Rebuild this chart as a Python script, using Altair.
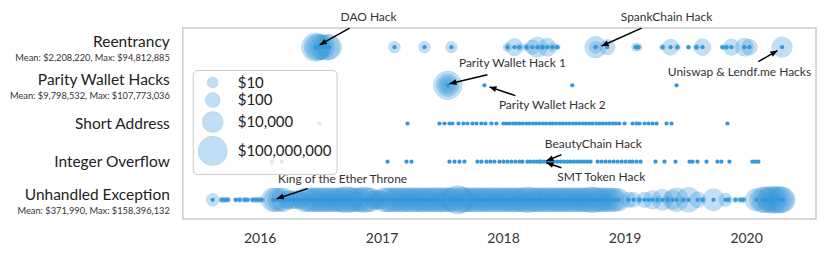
import math
import altair as alt
import pandas as pd

FONT = "Lato"
BLUE = "#3498db"

# ---------------- categories ----------------
categories = ["Reentrancy", "Parity Wallet Hacks", "Short Address", "Integer Overflow", "Unhandled Exception"]
cat_rows = [4, 3, 2, 1, 0]
subtitles = ["Mean: $2,208,220, Max: $94,812,885", "Mean: $9,798,532, Max: $107,773,036", "", "",
             "Mean: $371,990, Max: $158,396,132"]

# ---------------- data ----------------
re_dates = ["2016-06-17", "2016-06-21", "2016-06-28", "2016-07-08", "2016-07-20", "2016-07-28",
            "2017-02-09", "2017-05-10", "2017-07-30",
            "2018-01-14", "2018-02-04", "2018-02-19", "2018-03-12", "2018-03-30", "2018-04-14",
            "2018-04-29", "2018-05-14", "2018-05-29", "2018-06-13",
            "2018-10-06", "2018-10-06", "2018-11-10", "2019-02-03", "2019-02-12",
            "2019-04-25", "2019-05-19", "2019-06-09", "2019-07-12", "2019-08-05", "2019-08-23",
            "2019-10-22", "2019-11-03", "2019-11-18", "2019-12-27", "2020-01-11", "2020-04-18"]
re_amounts = [94812885, 3000000, 2000000, 800000, 5000000, 1000000,
              20, 20, 20,
              5, 800, 3, 3, 100, 10000,
              2, 1600, 5, 2,
              38000, 30, 180, 4, 3,
              2, 360, 2, 1.5, 2, 500,
              1.5, 2, 400, 1500, 300, 12000]

pw_dates = ["2017-07-19", "2017-07-19", "2017-07-19", "2017-07-19", "2017-11-06", "2018-07-28", "2019-06-06"]
pw_amounts = [107773036, 80000, 1000, 30, 1, 1, 1]

sa_dates = ["2016-06-29", "2017-03-20", "2017-06-24", "2017-07-09", "2017-07-24", "2017-08-02",
            "2017-08-20", "2017-09-04", "2017-09-16", "2017-10-01", "2017-10-13", "2017-10-28",
            "2017-11-09", "2017-11-27", "2017-12-12",
            "2018-01-02", "2018-01-11", "2018-01-20", "2018-01-31", "2018-02-09", "2018-02-19",
            "2018-03-01", "2018-03-12", "2018-03-21", "2018-04-01", "2018-04-10", "2018-04-20",
            "2018-05-01", "2018-05-10", "2018-05-21", "2018-05-30", "2018-06-09", "2018-06-20",
            "2018-06-29", "2018-07-09", "2018-07-19", "2018-07-30", "2018-08-08", "2018-08-18",
            "2018-08-29", "2018-09-07", "2018-09-17", "2018-09-27", "2018-10-08", "2018-10-17",
            "2018-10-27", "2018-11-06", "2018-11-16", "2018-11-27", "2018-12-06", "2018-12-16",
            "2019-01-01", "2019-01-25", "2019-02-06", "2019-02-15", "2019-03-02", "2019-03-14",
            "2019-03-26", "2019-04-07", "2019-05-07", "2019-05-22", "2019-11-06"]
sa_amounts = [1] * len(sa_dates)

io_dates = ["2016-02-06", "2016-03-07", "2017-01-19", "2017-03-17", "2017-04-01", "2017-07-24",
            "2017-08-08", "2017-08-23", "2017-09-07", "2017-10-16", "2017-10-28", "2017-11-12",
            "2017-11-24", "2017-12-06", "2017-12-21", "2018-01-02", "2018-01-14", "2018-01-26",
            "2018-02-07", "2018-02-19", "2018-02-28",
            "2018-03-15", "2018-03-25", "2018-04-04", "2018-04-14", "2018-04-22", "2018-04-24",
            "2018-05-04", "2018-05-14", "2018-05-24", "2018-06-03", "2018-06-13", "2018-06-23",
            "2018-07-03", "2018-07-13", "2018-07-23", "2018-08-02", "2018-08-12", "2018-08-22",
            "2018-09-01", "2018-09-11", "2018-09-21",
            "2018-10-12", "2018-10-24", "2018-11-05", "2018-11-17", "2018-11-29", "2018-12-11",
            "2018-12-23", "2019-01-04", "2019-01-16", "2019-01-25", "2019-02-06", "2019-02-18",
            "2019-04-04", "2019-05-01", "2019-06-03", "2019-07-15", "2019-07-24", "2019-08-08",
            "2019-09-04", "2019-10-07", "2019-10-19", "2019-11-12",
            "2020-01-20", "2020-01-29", "2020-02-07"]
io_amounts = [1] * len(io_dates)

ue_dates = ["2015-08-13", "2015-09-09", "2015-09-18", "2015-09-27", "2015-10-21", "2015-11-02",
            "2015-11-17", "2015-11-26", "2015-12-11", "2015-12-20", "2015-12-29", "2016-01-07",
            "2016-02-10", "2016-02-19", "2016-03-01", "2016-03-12", "2016-03-22", "2016-04-02",
            "2016-04-13", "2016-04-24", "2016-05-04", "2016-05-15", "2016-05-25", "2016-06-04",
            "2016-06-15", "2016-06-25", "2016-07-06", "2016-07-16", "2016-07-27", "2016-08-06",
            "2016-08-17", "2016-08-27", "2016-09-07", "2016-09-17", "2016-09-28", "2016-10-08",
            "2016-10-19", "2016-10-29", "2016-11-09", "2016-11-19", "2016-11-30", "2016-12-10",
            "2016-12-20", "2016-12-30",
            "2017-01-09", "2017-01-20", "2017-01-30", "2017-02-10", "2017-02-20", "2017-03-03",
            "2017-03-13", "2017-03-24", "2017-04-03", "2017-04-14", "2017-04-24", "2017-05-05",
            "2017-05-15", "2017-05-26", "2017-06-05", "2017-06-16", "2017-06-26", "2017-07-07",
            "2017-07-17", "2017-07-28", "2017-08-07", "2017-08-18", "2017-08-28", "2017-09-08",
            "2017-09-18", "2017-09-29", "2017-10-09", "2017-10-20", "2017-10-30", "2017-11-10",
            "2017-11-20", "2017-12-01", "2017-12-11", "2017-12-22",
            "2018-01-01", "2018-01-12", "2018-01-22", "2018-02-02", "2018-02-12", "2018-02-23",
            "2018-03-05", "2018-03-16", "2018-03-26", "2018-04-06", "2018-04-16", "2018-04-27",
            "2018-05-07", "2018-05-18", "2018-05-28", "2018-06-08", "2018-06-18", "2018-06-29",
            "2018-07-09", "2018-07-20", "2018-07-30", "2018-08-10", "2018-08-20", "2018-08-31",
            "2018-09-10", "2018-09-21", "2018-10-01", "2018-10-12", "2018-10-22", "2018-11-02",
            "2018-11-12", "2018-11-23", "2018-12-03", "2018-12-14",
            "2019-01-13", "2019-01-28", "2019-02-15", "2019-03-02", "2019-03-14", "2019-03-26",
            "2019-04-10", "2019-04-25", "2019-05-10", "2019-05-25", "2019-06-06", "2019-06-27",
            "2019-07-12", "2019-08-08", "2019-08-23", "2019-09-25", "2019-10-31", "2019-11-09",
            "2019-11-30", "2019-12-15", "2019-12-24",
            "2020-02-01", "2020-02-19", "2020-02-28", "2020-03-09", "2020-03-18", "2020-03-27",
            "2020-04-05", "2020-04-14", "2020-04-20"]
ue_amounts = [40, 2, 2, 2, 1.5, 2,
              2, 1.5, 2, 2, 2, 2,
              3e5, 3e5, 2e5, 3e5, 1e3, 2e3,
              1e3, 2e3, 1e3, 4e5, 3e5, 5e5,
              4e5, 6e5, 4e5, 5e5, 3e5, 5e5,
              4e5, 6e5, 8e5, 5e6, 1e6, 5e5,
              4e5, 5e5, 3e6, 5e5, 3e5, 2e3,
              3e3, 2e3,
              4e5, 5e5, 6e5, 4e5, 5e5, 7e5,
              4e5, 5e5, 6e5, 4e5, 5e5, 8e5,
              5e5, 4e5, 6e5, 5e5, 7e5, 5e5,
              6e5, 4e5, 8e5, 158396132, 2e6, 6e5,
              5e5, 4e5, 7e5, 5e5, 6e5, 4e5,
              5e5, 6e5, 4e5, 5e5,
              6e5, 4e5, 5e5, 7e5, 4e5, 5e5,
              6e5, 3e6, 5e5, 4e5, 6e5, 5e5,
              4e5, 7e5, 5e5, 4e5, 6e5, 5e5,
              4e5, 6e5, 5e5, 4e5, 5e5, 6e5,
              5e5, 2e6, 2e6, 6e5, 4e5, 5e5,
              3e5, 4e5, 2e5, 1e5,
              200, 150, 2, 200, 1.5, 2000,
              3, 20000, 3, 5000, 300000, 2,
              1000000, 300, 2, 50000, 50, 2,
              2, 2, 2,
              100000, 2e6, 5e6, 1e6, 2e7, 3e6,
              1e7, 4e6, 2e6]

series = [(re_dates, re_amounts, 4), (pw_dates, pw_amounts, 3), (sa_dates, sa_amounts, 2),
          (io_dates, io_amounts, 1), (ue_dates, ue_amounts, 0)]
df = pd.concat([pd.DataFrame({"date": pd.to_datetime(d), "amount": a, "row": r}) for d, a, r in series],
               ignore_index=True)

# ---------------- annotations ----------------
ann_text = ["DAO Hack", "SpankChain Hack", "Parity Wallet Hack 1", "Parity Wallet Hack 2",
            "Uniswap & Lendf.me Hacks", "BeautyChain Hack", "SMT Token Hack", "King of the Ether Throne"]
ann_text_date = ["2016-11-23", "2019-05-07", "2018-01-29", "2018-05-29", "2019-12-12", "2018-09-29",
                 "2018-10-23", "2016-09-06"]
ann_text_y = [4.80, 4.80, 3.59, 2.49, 3.36, 1.47, 0.61, 0.555]
arrow_from_date = ["2016-09-27", "2019-02-21", "2017-11-15", "2018-02-07", "2020-02-07", "2018-06-25",
                   "2018-06-25", "2016-05-24"]
arrow_from_y = [4.50, 4.50, 3.28, 2.73, 3.62, 1.18, 0.84, 0.293]
arrow_to_date = ["2016-06-29", "2018-10-24", "2017-07-24", "2017-11-21", "2020-04-04", "2018-05-11",
                 "2018-05-11", "2016-02-21"]
arrow_to_y = [4.06, 4.03, 3.04, 2.96, 3.91, 1.02, 0.97, 0.03]

X_DOMAIN = ("2015-05-15", "2020-07-29")
W, H = 634, 191
px_day = W / (pd.Timestamp(X_DOMAIN[1]) - pd.Timestamp(X_DOMAIN[0])).days
px_unit = H / 5.0

ann_df = pd.DataFrame({"text": ann_text, "date": pd.to_datetime(ann_text_date), "y": ann_text_y})
arr = pd.DataFrame({"date": pd.to_datetime(arrow_from_date), "y": arrow_from_y,
                    "date2": pd.to_datetime(arrow_to_date), "y2": arrow_to_y})
angles = []
for _, r in arr.iterrows():
    dx = (r["date2"] - r["date"]).days * px_day
    dy = -(r["y2"] - r["y"]) * px_unit
    angles.append(math.degrees(math.atan2(dx, -dy)) % 360)
arr["angle"] = angles

lab_df = pd.DataFrame({"label": categories, "sub": subtitles, "row": cat_rows})
lab_df["has_sub"] = lab_df["sub"] != ""

# ---------------- chart ----------------
x_scale = alt.Scale(domain=[alt.DateTime(year=2015, month=5, date=15),
                            alt.DateTime(year=2020, month=7, date=29)])
y_scale = alt.Scale(domain=[-0.5, 4.5])
x_axis = alt.Axis(format="%Y", values=[alt.DateTime(year=y, month=1, date=1) for y in range(2016, 2021)],
                  ticks=False, domain=False, grid=False, labelFontSize=14, labelFont=FONT,
                  labelColor="#333", labelPadding=13, title=None)

bubbles = alt.Chart(df).mark_circle(color=BLUE, opacity=0.3, stroke="#2c86c9",
                                    strokeWidth=1).encode(
    x=alt.X("date:T", scale=x_scale, axis=x_axis),
    y=alt.Y("row:Q", scale=y_scale, axis=None),
    size=alt.Size("amount:Q",
                  scale=alt.Scale(type="log", domain=[1, 1e8], range=[0, 800], clamp=True),
                  legend=alt.Legend(title=None, orient="none", legendX=10, legendY=42,
                                    values=[10, 100, 10000, 100000000], format="$,d",
                                    labelFont=FONT, labelFontSize=15, labelColor="#222",
                                    fillColor="rgba(255,255,255,0.8)", strokeColor="#cccccc",
                                    padding=5, cornerRadius=4, labelOffset=10,
                                    rowPadding=-2, zindex=1)),
)

dots = alt.Chart(df).mark_circle(size=18, color=BLUE, opacity=1).encode(
    x=alt.X("date:T"), y=alt.Y("row:Q"))

rules = alt.Chart(arr).mark_rule(color="black", strokeWidth=1.5).encode(
    x="date:T", y="y:Q", x2="date2:T", y2="y2:Q")

heads = alt.Chart(arr).mark_point(shape="M0,0L-0.75,1.75L0.75,1.75Z", filled=True, color="black",
                                  size=64, opacity=1).encode(
    x="date2:T", y="y2:Q", angle=alt.Angle("angle:Q", scale=None))

texts = alt.Chart(ann_df).mark_text(font=FONT, fontSize=12, color="#333", baseline="middle",
                                    align="center").encode(x="date:T", y="y:Q", text="text:N")

lab_main_sub = alt.Chart(lab_df).transform_filter("datum.has_sub").mark_text(
    font=FONT, fontSize=15.5, color="#222", align="right", baseline="middle", dy=-5).encode(
    x=alt.value(-13), y="row:Q", text="label:N")
lab_main = alt.Chart(lab_df).transform_filter("!datum.has_sub").mark_text(
    font=FONT, fontSize=15.5, color="#222", align="right", baseline="middle").encode(
    x=alt.value(-13), y="row:Q", text="label:N")
lab_sub = alt.Chart(lab_df).transform_filter("datum.has_sub").mark_text(
    font=FONT, fontSize=9.3, color="#333", align="right", baseline="middle", dy=11).encode(
    x=alt.value(-13), y="row:Q", text="sub:N")

chart = alt.layer(bubbles, dots, rules, heads, texts, lab_main_sub, lab_main, lab_sub).properties(
    width=W, height=H,
    padding={"left": 175, "top": 20, "right": 6, "bottom": 30},
    autosize=alt.AutoSizeParams(type="none"),
).configure_view(stroke="#cccccc", strokeWidth=1.5)

chart.save("out.html", embed_options={"renderer": "svg", "actions": False})
